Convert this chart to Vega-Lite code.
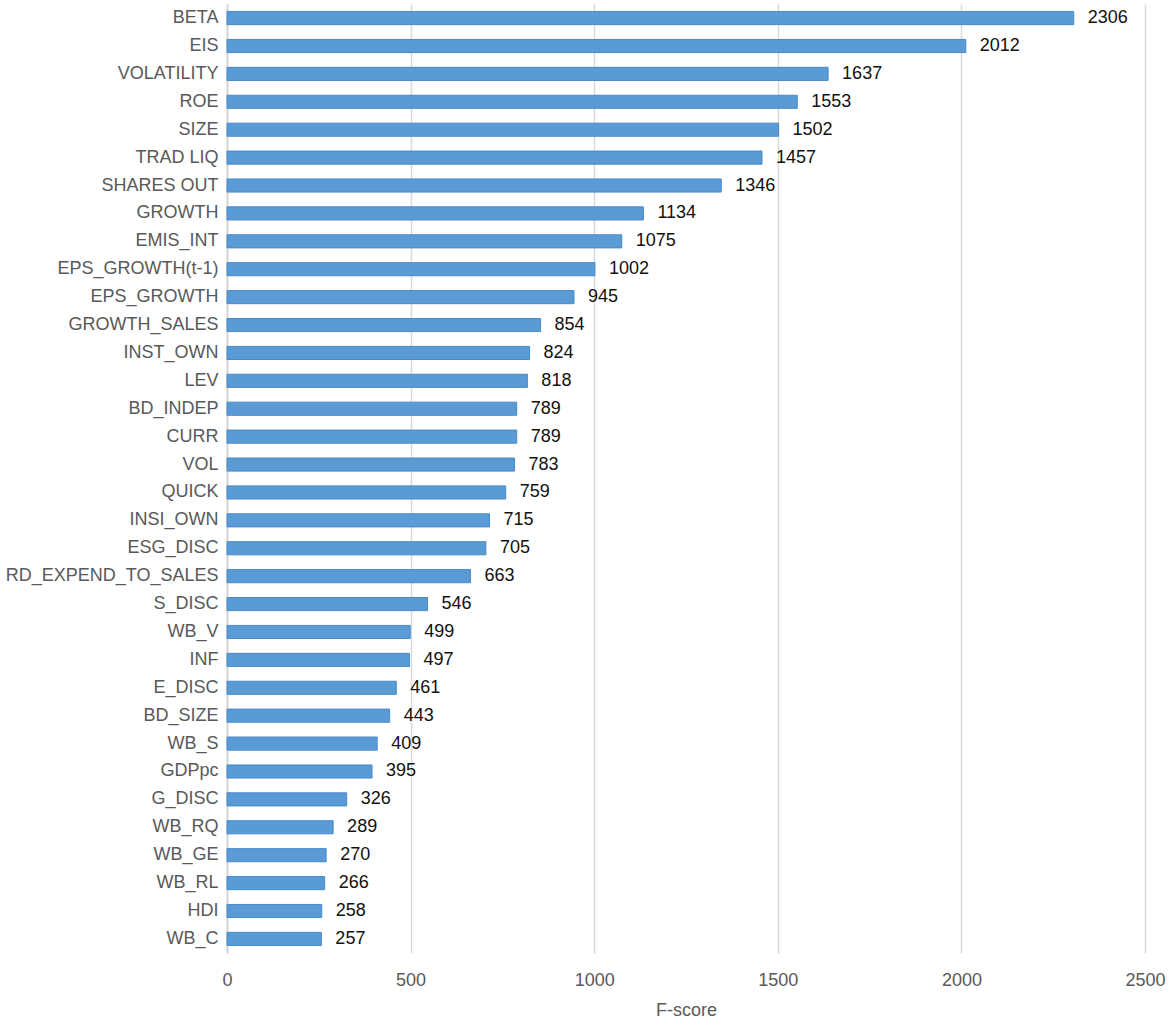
{
  "$schema": "https://vega.github.io/schema/vega-lite/v6.json",
  "autosize": "none",
  "width": 918,
  "height": 949,
  "padding": {"left": 227, "top": 4, "right": 25, "bottom": 71},
  "background": "white",
  "data": {
    "values": [
      {"feature": "BETA", "score": 2306},
      {"feature": "EIS", "score": 2012},
      {"feature": "VOLATILITY", "score": 1637},
      {"feature": "ROE", "score": 1553},
      {"feature": "SIZE", "score": 1502},
      {"feature": "TRAD LIQ", "score": 1457},
      {"feature": "SHARES OUT", "score": 1346},
      {"feature": "GROWTH", "score": 1134},
      {"feature": "EMIS_INT", "score": 1075},
      {"feature": "EPS_GROWTH(t-1)", "score": 1002},
      {"feature": "EPS_GROWTH", "score": 945},
      {"feature": "GROWTH_SALES", "score": 854},
      {"feature": "INST_OWN", "score": 824},
      {"feature": "LEV", "score": 818},
      {"feature": "BD_INDEP", "score": 789},
      {"feature": "CURR", "score": 789},
      {"feature": "VOL", "score": 783},
      {"feature": "QUICK", "score": 759},
      {"feature": "INSI_OWN", "score": 715},
      {"feature": "ESG_DISC", "score": 705},
      {"feature": "RD_EXPEND_TO_SALES", "score": 663},
      {"feature": "S_DISC", "score": 546},
      {"feature": "WB_V", "score": 499},
      {"feature": "INF", "score": 497},
      {"feature": "E_DISC", "score": 461},
      {"feature": "BD_SIZE", "score": 443},
      {"feature": "WB_S", "score": 409},
      {"feature": "GDPpc", "score": 395},
      {"feature": "G_DISC", "score": 326},
      {"feature": "WB_RQ", "score": 289},
      {"feature": "WB_GE", "score": 270},
      {"feature": "WB_RL", "score": 266},
      {"feature": "HDI", "score": 258},
      {"feature": "WB_C", "score": 257}
    ]
  },
  "encoding": {
    "y": {
      "field": "feature",
      "type": "nominal",
      "sort": null,
      "scale": {"paddingInner": 0.53, "paddingOuter": 0.27},
      "axis": {
        "title": null,
        "ticks": false,
        "labelPadding": 9,
        "labelFontSize": 18,
        "labelColor": "#595959",
        "labelFont": "Liberation Sans",
        "labelLimit": 260,
        "domainColor": "#d0d0d0",
        "domainWidth": 1.5,
        "grid": false
      }
    },
    "x": {
      "field": "score",
      "type": "quantitative",
      "scale": {"domain": [0, 2500], "nice": false},
      "axis": {
        "values": [0, 500, 1000, 1500, 2000, 2500],
        "format": "d",
        "title": "F-score",
        "titleFont": "Liberation Sans",
        "titleFontSize": 18,
        "titleFontWeight": "normal",
        "titleColor": "#595959",
        "titlePadding": 12,
        "labelFont": "Liberation Sans",
        "labelFontSize": 18,
        "labelColor": "#595959",
        "labelPadding": 18,
        "labelFlush": false,
        "ticks": false,
        "domain": false,
        "grid": true,
        "gridColor": "#d9d9d9",
        "gridWidth": 1.5
      }
    }
  },
  "layer": [
    {
      "mark": {"type": "bar", "color": "#5b9bd5", "stroke": "#4a89c8", "strokeWidth": 1}
    },
    {
      "mark": {"type": "text", "align": "left", "baseline": "middle", "dx": 14, "fontSize": 18, "font": "Liberation Sans", "color": "#111111"},
      "encoding": {"text": {"field": "score", "type": "quantitative"}}
    }
  ],
  "config": {
    "view": {"stroke": null}
  }
}
